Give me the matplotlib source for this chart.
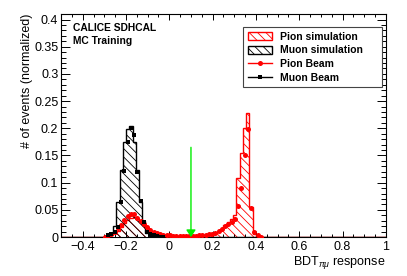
import numpy as np
import matplotlib
matplotlib.use('Agg')
import matplotlib.pyplot as plt
from matplotlib.ticker import MultipleLocator, FuncFormatter
from matplotlib.patches import Patch
from matplotlib.lines import Line2D

plt.rcParams['font.family'] = ['Liberation Sans', 'DejaVu Sans']
plt.rcParams['mathtext.fontset'] = 'custom'
plt.rcParams['mathtext.rm'] = 'Liberation Sans'
plt.rcParams['mathtext.it'] = 'Liberation Sans:italic'
plt.rcParams['hatch.linewidth'] = 0.6

# 100 bins from -0.5 to 1 (width 0.015)
n_bins = 100
x_min, x_max = -0.5, 1.0

# simulation histograms: first bin edge + contents
pion_sim_start = -0.305
pion_sim = [0.001, 0.002, 0.004, 0.007, 0.012, 0.018, 0.025, 0.031, 0.036, 0.037,
            0.034, 0.029, 0.023, 0.017, 0.012, 0.009, 0.006, 0.004, 0.003, 0.002,
            0.002, 0.0015, 0.0015, 0.0015, 0.0015, 0.0015, 0.0015, 0.0015, 0.0015,
            0.002, 0.003, 0.003, 0.004, 0.005, 0.007, 0.010, 0.014, 0.022, 0.028,
            0.034, 0.040, 0.108, 0.155, 0.200, 0.228, 0.056, 0.005, 0.001]

muon_sim_start = -0.29
muon_sim = [0.002, 0.006, 0.020, 0.065, 0.123, 0.175, 0.198, 0.205, 0.175, 0.123,
            0.065, 0.030, 0.008, 0.002]

# beam data: first bin edge + contents
pion_beam_start = -0.305
pion_beam = [0.001, 0.003, 0.006, 0.010, 0.016, 0.022, 0.031, 0.039, 0.043, 0.042,
             0.036, 0.030, 0.024, 0.018, 0.013, 0.010, 0.007, 0.005, 0.004, 0.003,
             0.003, 0.002, 0.002, 0.002, 0.002, 0.002, 0.002, 0.002, 0.002,
             0.003, 0.003, 0.004, 0.005, 0.006, 0.008, 0.011, 0.014, 0.020, 0.024,
             0.028, 0.033, 0.058, 0.090, 0.150, 0.198, 0.054, 0.010, 0.004, 0.001]

muon_beam_start = -0.29
muon_beam = [0.003, 0.006, 0.010, 0.019, 0.065, 0.121, 0.175, 0.200, 0.187, 0.120,
             0.066, 0.028, 0.010, 0.005, 0.003, 0.002, 0.001, 0.0005]

cut_value = 0.1
cut_top = 0.165

edges = np.linspace(x_min, x_max, n_bins + 1)
centers = 0.5 * (edges[:-1] + edges[1:])
width = (x_max - x_min) / n_bins


def fill(start, vals):
    h = np.zeros(n_bins)
    i = int(round((start - x_min) / width))
    h[i:i + len(vals)] = vals
    return h


h_pion_sim = fill(pion_sim_start, pion_sim)
h_muon_sim = fill(muon_sim_start, muon_sim)
h_pion_beam = fill(pion_beam_start, pion_beam)
h_muon_beam = fill(muon_beam_start, muon_beam)

fig = plt.figure(figsize=(4.07, 2.76), dpi=100)
ax = fig.add_axes([0.150, 0.141, 0.798, 0.808])

hatch = '\\\\\\\\'
ax.stairs(h_pion_sim, edges, fill=True, facecolor='none', edgecolor='red',
          hatch=hatch, lw=1.0)
ax.stairs(h_muon_sim, edges, fill=True, facecolor='none', edgecolor='black',
          hatch=hatch, lw=1.0)

m = h_pion_beam > 0
ax.plot(centers[m], h_pion_beam[m], 'o', color='red', ms=3.6, mew=0, zorder=3)
m = h_muon_beam > 0
ax.plot(centers[m], h_muon_beam[m], 's', color='black', ms=3.4, mew=0, zorder=4)

ax.annotate('', xy=(cut_value, 0), xytext=(cut_value, cut_top),
            arrowprops=dict(arrowstyle='-|>,head_length=0.3,head_width=0.2',
                            color='#00ee00', lw=1.0, mutation_scale=14,
                            shrinkA=0, shrinkB=0), zorder=5)

ax.set_xlim(x_min, x_max)
ax.set_ylim(0, 0.41)

fmt = FuncFormatter(lambda v, p: f'{round(v, 4):g}'.replace('-', '\u2212'))
ax.xaxis.set_major_locator(MultipleLocator(0.2))
ax.xaxis.set_minor_locator(MultipleLocator(0.05))
ax.yaxis.set_major_locator(MultipleLocator(0.05))
ax.yaxis.set_minor_locator(MultipleLocator(0.01))
ax.xaxis.set_major_formatter(fmt)
ax.yaxis.set_major_formatter(fmt)

ax.tick_params(which='both', direction='in', top=True, right=True,
               labelsize=9, width=0.7)
ax.tick_params(axis='x', which='major', length=4.5, pad=3)
ax.tick_params(axis='x', which='minor', length=2.3)
ax.tick_params(axis='y', which='major', length=6.5, pad=2)
ax.tick_params(axis='y', which='minor', length=3.5)
for s in ax.spines.values():
    s.set_linewidth(0.8)

ax.set_xlabel(r'BDT$_{\pi\mu}$ response', fontsize=9, ha='right')
ax.xaxis.set_label_coords(1.0, -0.078)
ax.set_ylabel('# of events (normalized)', fontsize=9, ha='right')
ax.yaxis.set_label_coords(-0.085, 1.0)

ax.text(0.037, 0.937, 'CALICE SDHCAL', transform=ax.transAxes, fontsize=7.4,
        fontweight='bold', va='center')
ax.text(0.037, 0.879, 'MC Training', transform=ax.transAxes, fontsize=7.4,
        fontweight='bold', va='center')

handles = [
    Patch(facecolor='none', edgecolor='red', hatch=hatch, lw=1.0),
    Patch(facecolor='none', edgecolor='black', hatch=hatch, lw=1.0),
    Line2D([], [], color='red', marker='o', ms=3.6, mew=0, lw=1.0),
    Line2D([], [], color='black', marker='s', ms=3.4, mew=0, lw=1.0),
]
labels = ['Pion simulation', 'Muon simulation', 'Pion Beam', 'Muon Beam']
leg = ax.legend(handles, labels, loc='upper left',
                bbox_to_anchor=(0.56, 0.695, 0.428, 0.247), mode='expand',
                prop={'weight': 'bold', 'size': 7.5}, frameon=True,
                fancybox=False, framealpha=1, edgecolor='#444444',
                handlelength=2.3, handleheight=0.8, labelspacing=0.35,
                borderpad=0.45, handletextpad=0.8, borderaxespad=0)
leg.get_frame().set_linewidth(0.8)

fig.savefig('out.png', dpi=100)
